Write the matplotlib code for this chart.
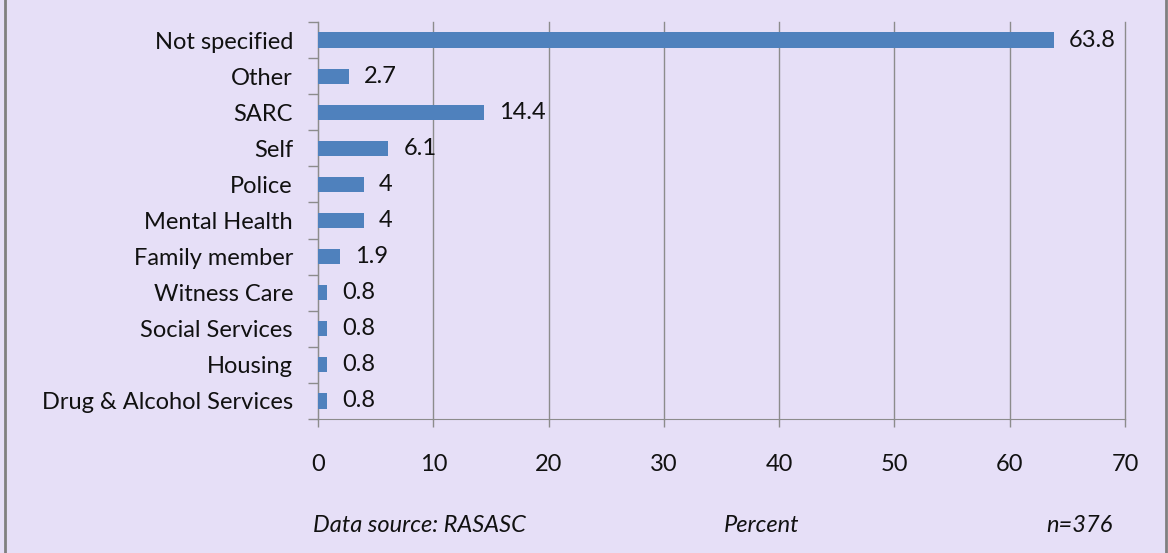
import matplotlib.pyplot as plt
from matplotlib.lines import Line2D

categories = ['Not specified', 'Other', 'SARC', 'Self', 'Police', 'Mental Health',
              'Family member', 'Witness Care', 'Social Services', 'Housing',
              'Drug & Alcohol Services']
percent = [63.8, 2.7, 14.4, 6.1, 4, 4, 1.9, 0.8, 0.8, 0.8, 0.8]
labels = ['63.8', '2.7', '14.4', '6.1', '4', '4', '1.9', '0.8', '0.8', '0.8', '0.8']
xticks = [0, 10, 20, 30, 40, 50, 60, 70]

bg = '#E6DFF7'
grid_c = '#8C8C8C'
bar_c = '#4F81BD'
txt_c = '#111111'
fs = 17
plt.rcParams['font.family'] = ['Lato', 'DejaVu Sans']

W, H = 1168, 553
fig = plt.figure(figsize=(W / 100, H / 100), dpi=100, facecolor=bg)
ax = fig.add_axes([318 / W, 1 - 419 / H, (1125 - 318) / W, (419 - 22) / H])
ax.set_facecolor(bg)

n = len(categories)
ypos = list(range(n))[::-1]
ax.barh(ypos, percent, height=0.42, color=bar_c, zorder=3)
for y, v, t in zip(ypos, percent, labels):
    ax.text(v + 1.3, y, t, va='center', ha='left', fontsize=fs, color=txt_c, zorder=4)

ax.set_xlim(0, 70)
ax.set_ylim(-0.5, n - 0.5)
ax.set_xticks(xticks)
ax.set_xticklabels([str(x) for x in xticks], fontsize=fs, color=txt_c)
ax.set_yticks(ypos)
ax.set_yticklabels(categories, fontsize=fs, color=txt_c)
ax.tick_params(axis='y', length=0, pad=18)
ax.set_yticks([i - 0.5 for i in range(n + 1)], minor=True)
ax.tick_params(axis='y', which='minor', length=7, color=grid_c, width=1)
ax.tick_params(axis='x', length=6, color=grid_c, width=1, pad=19, direction='out')
ax.grid(axis='x', color=grid_c, linewidth=1, zorder=0)
for gl in ax.get_xgridlines():
    gl.set_clip_on(False)
for s in ['top', 'right']:
    ax.spines[s].set_visible(False)
ax.spines['left'].set_color(grid_c)
ax.spines['bottom'].set_color(grid_c)

fig.text(313 / W, 1 - 525 / H, 'Data source: RASASC', fontsize=fs, style='italic',
         color=txt_c, va='center', ha='left')
fig.text(762 / W, 1 - 525 / H, 'Percent', fontsize=fs, style='italic',
         color=txt_c, va='center', ha='center')
fig.text(1113 / W, 1 - 525 / H, 'n=376', fontsize=fs, style='italic',
         color=txt_c, va='center', ha='right')

# outer frame lines
fig.add_artist(Line2D([5 / W, 5 / W], [0, 1], color='#808080', linewidth=2))
fig.add_artist(Line2D([1166 / W, 1166 / W], [0, 1], color='#808080', linewidth=2))

fig.savefig('out.png', dpi=100, facecolor=bg)
